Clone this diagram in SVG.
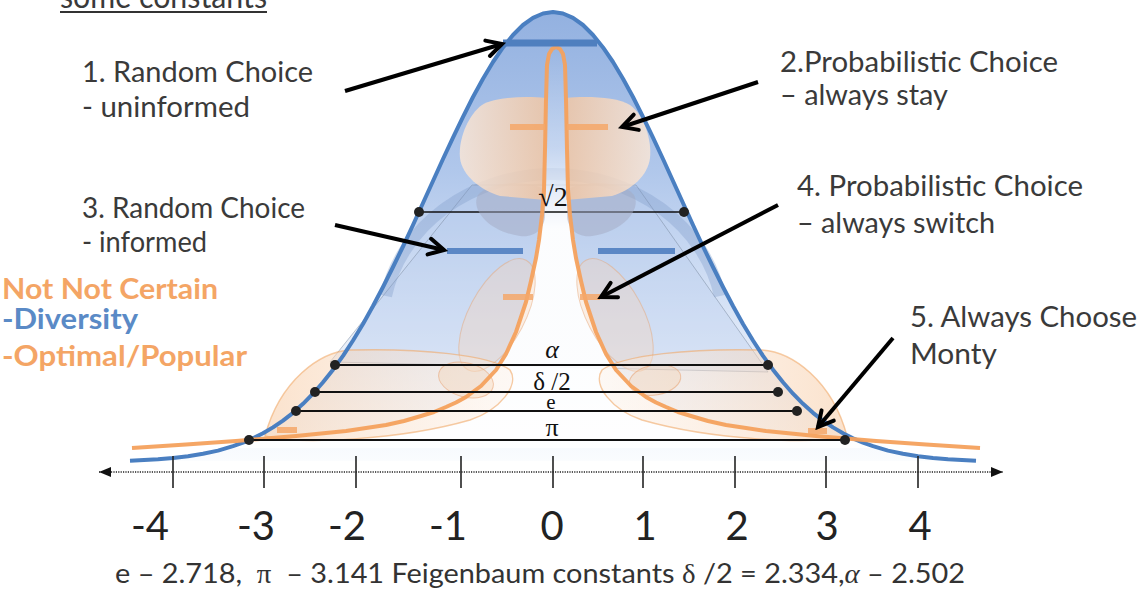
<svg xmlns="http://www.w3.org/2000/svg" width="1145" height="592" viewBox="0 0 1145 592">
<style>
.t{font-family:Lato,"Open Sans","Liberation Sans",sans-serif;font-size:28px;fill:#3a3a3a}
.b{font-weight:bold}
.num{font-family:Lato,"Open Sans","Liberation Sans",sans-serif;font-size:40px;fill:#222;text-anchor:middle}
.sym{font-family:"Liberation Serif","DejaVu Serif",serif;fill:#111;text-anchor:middle}
.serif{font-family:"Liberation Serif","DejaVu Serif",serif}
.it{font-style:italic}
.hl{stroke:#111;stroke-width:1.8;fill:none}
.dot{fill:#222}
.arrow{stroke:#000;stroke-width:4;fill:none;marker-end:url(#ah)}
.tick{stroke:#222;stroke-width:1.6}
.bbar{stroke:#4f7fbf;stroke-width:6}
.obar{stroke:#f5a86a;stroke-width:6;opacity:.85}
</style>
<defs>
<marker id="ah" markerWidth="24" markerHeight="24" refX="20" refY="12" orient="auto" markerUnits="userSpaceOnUse">
<path d="M5,4 L20,12 L5,20" fill="none" stroke="#000" stroke-width="4" stroke-linecap="round"/>
</marker>
<marker id="tri" markerWidth="14" markerHeight="12" refX="12" refY="6" orient="auto-start-reverse" markerUnits="userSpaceOnUse">
<path d="M0,1 L12,6 L0,11 Z" fill="#111"/>
</marker>
<linearGradient id="gBlue" x1="0" y1="12" x2="0" y2="461" gradientUnits="userSpaceOnUse">
<stop offset="0" stop-color="#93b1e0"/>
<stop offset="0.35" stop-color="#b0c7eb"/>
<stop offset="0.6" stop-color="#d0def4"/>
<stop offset="0.85" stop-color="#ecf2fb"/>
<stop offset="1" stop-color="#fafcfe"/>
</linearGradient>
<linearGradient id="gWhite" x1="0" y1="48" x2="0" y2="448" gradientUnits="userSpaceOnUse">
<stop offset="0" stop-color="#fff" stop-opacity="0"/>
<stop offset="0.25" stop-color="#fff" stop-opacity="0.3"/>
<stop offset="0.45" stop-color="#fff" stop-opacity="0.95"/>
<stop offset="1" stop-color="#fff" stop-opacity="0.9"/>
</linearGradient>
<linearGradient id="gPetL" x1="0" y1="0" x2="1" y2="0">
<stop offset="0" stop-color="#fde8d6"/>
<stop offset="1" stop-color="#f6c7a0"/>
</linearGradient>
<linearGradient id="gPetR" x1="0" y1="0" x2="1" y2="0">
<stop offset="0" stop-color="#f6c7a0"/>
<stop offset="1" stop-color="#fde8d6"/>
</linearGradient>
<linearGradient id="gLobeL" x1="0" y1="0" x2="1" y2="0">
<stop offset="0" stop-color="#f8cfab" stop-opacity="0.6"/>
<stop offset="1" stop-color="#fdeee2" stop-opacity="0.35"/>
</linearGradient>
<linearGradient id="gLobeR" x1="0" y1="0" x2="1" y2="0">
<stop offset="0" stop-color="#fdeee2" stop-opacity="0.35"/>
<stop offset="1" stop-color="#f8cfab" stop-opacity="0.6"/>
</linearGradient>
<path id="gauss" d="M130,460.7 L158,459.3 L173,458 L188,456.2 L203,453.8 L218,450.6 L233,446.2 L243,442.6 L253,438.3 L263,433.3 L273,427.4 L283,420.6 L293,412.8 L303,403.8 L313,393.7 L323,382.3 L333,369.7 L343,355.8 L353,340.5 L363,324 L373,306 L383,287 L393,267 L403,246.5 L413,225 L423,203 L433,181 L443,159 L453,137.6 L463,116.8 L473,97 L483,78.7 L493,62 L503,47.4 L513,35 L523,25 L533,17.9 L543,13.5 L553,12 L563,13.5 L573,17.9 L583,25 L593,35 L603,47.4 L613,62 L623,78.7 L633,97 L643,116.8 L653,137.6 L663,159 L673,181 L683,203 L693,225 L703,246.5 L713,267 L723,287 L733,306 L743,324 L753,340.5 L763,355.8 L773,369.7 L783,382.3 L793,393.7 L803,403.8 L813,412.8 L823,420.6 L833,427.4 L843,433.3 L853,438.3 L863,442.6 L873,446.2 L888,450.6 L903,453.8 L918,456.2 L933,458 L948,459.3 L976,460.7"/>
<path id="spike" d="M132,448 L186,444.5 L236,441 L266,438.5 L296,436 L321,433.5 L346,431 L366,428 L386,425 L404,421 L421,416 L434,412 L446,407 L456,402.5 L466,397 L481,386 L496,370 L506,354 L516,332 L526,302 L531,281 L536,258 L539,240 L542,215 L544,190 L545,150 L546,100 L547,65 L549,54 L552,49 L556,47 L560,49 L563,54 L565,65 L566,100 L567,150 L568,190 L570,215 L573,240 L576,258 L581,281 L586,302 L596,332 L606,354 L616,370 L631,386 L646,397 L656,402.5 L666,407 L678,412 L691,416 L708,421 L726,425 L746,428 L766,431 L791,433.5 L816,436 L846,438.5 L876,441 L926,444.5 L980,448"/>
</defs>

<g id="header">
<text class="t" x="60" y="8" textLength="207" lengthAdjust="spacingAndGlyphs" style="font-size:32px">some constants</text>
<line x1="60" y1="12" x2="267" y2="12" stroke="#333" stroke-width="2"/>
</g>

<g id="distributions">
<use href="#gauss" fill="url(#gBlue)" stroke="none"/>
<path d="M472,185 L330,362 L768,372 L636,185 Z" fill="#b5c9ea" fill-opacity="0.3" stroke="#7a8aa0" stroke-opacity="0.5" stroke-width="1"/>
<path d="M386,296 A170,150 0 0 1 720,296" fill="none" stroke="#7f9cc8" stroke-opacity="0.35" stroke-width="12"/>
<use href="#spike" fill="url(#gWhite)" stroke="none"/>
</g>

<g id="sqrt2-line">
<line class="hl" x1="419" y1="212" x2="684" y2="212" style="stroke-width:1.5"/>
</g>

<g id="shapes">
<path d="M545,190 C530,180 490,180 478,195 C470,210 490,232 520,236 C535,238 545,228 545,215 Z" fill="#a3a9c2" fill-opacity="0.5"/>
<path d="M567,190 C582,180 622,180 634,195 C642,210 622,232 592,236 C577,238 567,228 567,215 Z" fill="#a3a9c2" fill-opacity="0.5"/>
<path d="M546,98 C525,96 495,97 482,105 C468,115 458,140 460,158 C462,175 480,190 500,196 L546,200 Z" fill="url(#gPetL)" fill-opacity="0.8"/>
<path d="M566,98 C587,96 617,97 630,105 C644,115 652,140 650,158 C648,175 632,190 612,196 L566,200 Z" fill="url(#gPetR)" fill-opacity="0.8"/>
<ellipse cx="497" cy="315" rx="28" ry="62" transform="rotate(28 497 315)" fill="#f8d5b8" fill-opacity="0.35" stroke="#e8a878" stroke-opacity="0.5" stroke-width="1"/>
<ellipse cx="615" cy="315" rx="28" ry="62" transform="rotate(-28 615 315)" fill="#f8d5b8" fill-opacity="0.35" stroke="#e8a878" stroke-opacity="0.5" stroke-width="1"/>
<path d="M265,436 C280,380 320,352 350,350 C420,348 490,355 510,370 C520,385 500,410 470,420 C400,440 300,445 265,436 Z" fill="url(#gLobeL)" stroke="#f0a868" stroke-opacity="0.6" stroke-width="1.5"/>
<path d="M847,436 C832,380 792,352 762,350 C692,348 622,355 602,370 C592,385 612,410 642,420 C712,440 812,445 847,436 Z" fill="url(#gLobeR)" stroke="#f0a868" stroke-opacity="0.6" stroke-width="1.5"/>
<ellipse cx="466" cy="380" rx="28" ry="17" transform="rotate(15 466 380)" fill="#f6c9a2" fill-opacity="0.3" stroke="#e8a070" stroke-opacity="0.55" stroke-width="1"/>
<ellipse cx="655" cy="380" rx="26" ry="15" transform="rotate(-10 655 380)" fill="#f6c9a2" fill-opacity="0.3" stroke="#e8a070" stroke-opacity="0.55" stroke-width="1"/>
</g>

<g id="curves">
<use href="#gauss" fill="none" stroke="#4a7fc1" stroke-width="4" stroke-linejoin="round"/>
<use href="#spike" fill="none" stroke="#f4a15d" stroke-width="4" stroke-linejoin="round" stroke-opacity="0.95"/>
</g>

<g id="bars">
<line class="bbar" x1="503" y1="43" x2="597" y2="43" style="stroke-width:7"/>
<line class="bbar" x1="447" y1="251" x2="523" y2="251" style="stroke:#5b87c5"/>
<line class="bbar" x1="598" y1="251" x2="675" y2="251" style="stroke:#5b87c5"/>
<line class="obar" x1="510" y1="127" x2="545" y2="127"/>
<line class="obar" x1="567" y1="127" x2="608" y2="127"/>
<line class="obar" x1="503" y1="297" x2="533" y2="297"/>
<line class="obar" x1="580" y1="297" x2="600" y2="297"/>
<line class="obar" x1="277" y1="430" x2="297" y2="430"/>
<line class="obar" x1="808" y1="431" x2="827" y2="431"/>
</g>

<g id="constant-lines">
<line class="hl" x1="335" y1="365" x2="768" y2="365"/>
<line class="hl" x1="315" y1="392" x2="778" y2="392"/>
<line class="hl" x1="296" y1="411" x2="797" y2="411"/>
<line class="hl" x1="249" y1="440" x2="845" y2="440"/>
<circle class="dot" cx="419" cy="212" r="5"/>
<circle class="dot" cx="684" cy="212" r="5"/>
<circle class="dot" cx="335" cy="365" r="5"/>
<circle class="dot" cx="768" cy="365" r="5"/>
<circle class="dot" cx="315" cy="392" r="5"/>
<circle class="dot" cx="778" cy="392" r="5"/>
<circle class="dot" cx="296" cy="411" r="5"/>
<circle class="dot" cx="797" cy="411" r="5"/>
<circle class="dot" cx="249" cy="440" r="5"/>
<circle class="dot" cx="845" cy="440" r="5"/>
<text class="sym" x="553" y="206" style="font-size:28px">√2</text>
<text class="sym it" x="552" y="358" style="font-size:26px">α</text>
<text class="sym" x="552" y="390" style="font-size:25px">δ /2</text>
<text class="sym" x="551" y="409" style="font-size:21px">e</text>
<text class="sym" x="552" y="436" style="font-size:26px">π</text>
</g>

<g id="connectors">
<line class="arrow" x1="345" y1="91" x2="502" y2="44"/>
<line class="arrow" x1="758" y1="82" x2="622" y2="127"/>
<line class="arrow" x1="335" y1="225" x2="444" y2="250"/>
<line class="arrow" x1="778" y1="205" x2="601" y2="297"/>
<line class="arrow" x1="893" y1="338" x2="818" y2="427"/>
</g>

<g id="axis">
<line x1="99" y1="472" x2="1003" y2="472" stroke="#222" stroke-width="1.5" stroke-dasharray="1.2,1.2" marker-start="url(#tri)" marker-end="url(#tri)"/>
<line class="tick" x1="173" y1="456" x2="173" y2="488"/>
<line class="tick" x1="264" y1="456" x2="264" y2="488"/>
<line class="tick" x1="356" y1="456" x2="356" y2="488"/>
<line class="tick" x1="461" y1="456" x2="461" y2="488"/>
<line class="tick" x1="553" y1="456" x2="553" y2="488"/>
<line class="tick" x1="643" y1="456" x2="643" y2="488"/>
<line class="tick" x1="735" y1="456" x2="735" y2="488"/>
<line class="tick" x1="826" y1="456" x2="826" y2="488"/>
<line class="tick" x1="918" y1="456" x2="918" y2="488"/>
<text class="num" x="150" y="540">-4</text>
<text class="num" x="256" y="540">-3</text>
<text class="num" x="347" y="540">-2</text>
<text class="num" x="448" y="540">-1</text>
<text class="num" x="552" y="540">0</text>
<text class="num" x="645" y="540">1</text>
<text class="num" x="737" y="540">2</text>
<text class="num" x="827" y="540">3</text>
<text class="num" x="920" y="540">4</text>
</g>

<g id="label-1">
<text class="t" x="82" y="82" textLength="231" lengthAdjust="spacingAndGlyphs">1. Random Choice</text>
<text class="t" x="82" y="117" textLength="168" lengthAdjust="spacingAndGlyphs">- uninformed</text>
</g>
<g id="label-2">
<text class="t" x="780" y="72" textLength="278" lengthAdjust="spacingAndGlyphs">2.Probabilistic Choice</text>
<text class="t" x="780" y="105" textLength="168" lengthAdjust="spacingAndGlyphs">– always stay</text>
</g>
<g id="label-3">
<text class="t" x="82" y="218" textLength="223" lengthAdjust="spacingAndGlyphs">3. Random Choice</text>
<text class="t" x="82" y="252" textLength="125" lengthAdjust="spacingAndGlyphs">- informed</text>
</g>
<g id="label-4">
<text class="t" x="797" y="196" textLength="286" lengthAdjust="spacingAndGlyphs">4. Probabilistic Choice</text>
<text class="t" x="797" y="233" textLength="198" lengthAdjust="spacingAndGlyphs">– always switch</text>
</g>
<g id="label-5">
<text class="t" x="910" y="327" textLength="227" lengthAdjust="spacingAndGlyphs">5. Always Choose</text>
<text class="t" x="910" y="364" textLength="87" lengthAdjust="spacingAndGlyphs">Monty</text>
</g>
<g id="legend">
<text class="t b" x="2" y="299" textLength="216" lengthAdjust="spacingAndGlyphs" style="fill:#f4a565">Not Not Certain</text>
<text class="t b" x="2" y="329" textLength="136" lengthAdjust="spacingAndGlyphs" style="fill:#5a8ac6">-Diversity</text>
<text class="t b" x="2" y="366" textLength="245" lengthAdjust="spacingAndGlyphs" style="fill:#f4a565">-Optimal/Popular</text>
</g>
<g id="footer">
<text class="t" x="115" y="583" textLength="850" lengthAdjust="spacingAndGlyphs" xml:space="preserve" style="font-size:27px;fill:#333">e – 2.718,  <tspan class="serif">π</tspan>  – 3.141 Feigenbaum constants <tspan class="serif">δ</tspan> /2 = 2.334,<tspan class="serif it">α</tspan> – 2.502</text>
</g>
</svg>
